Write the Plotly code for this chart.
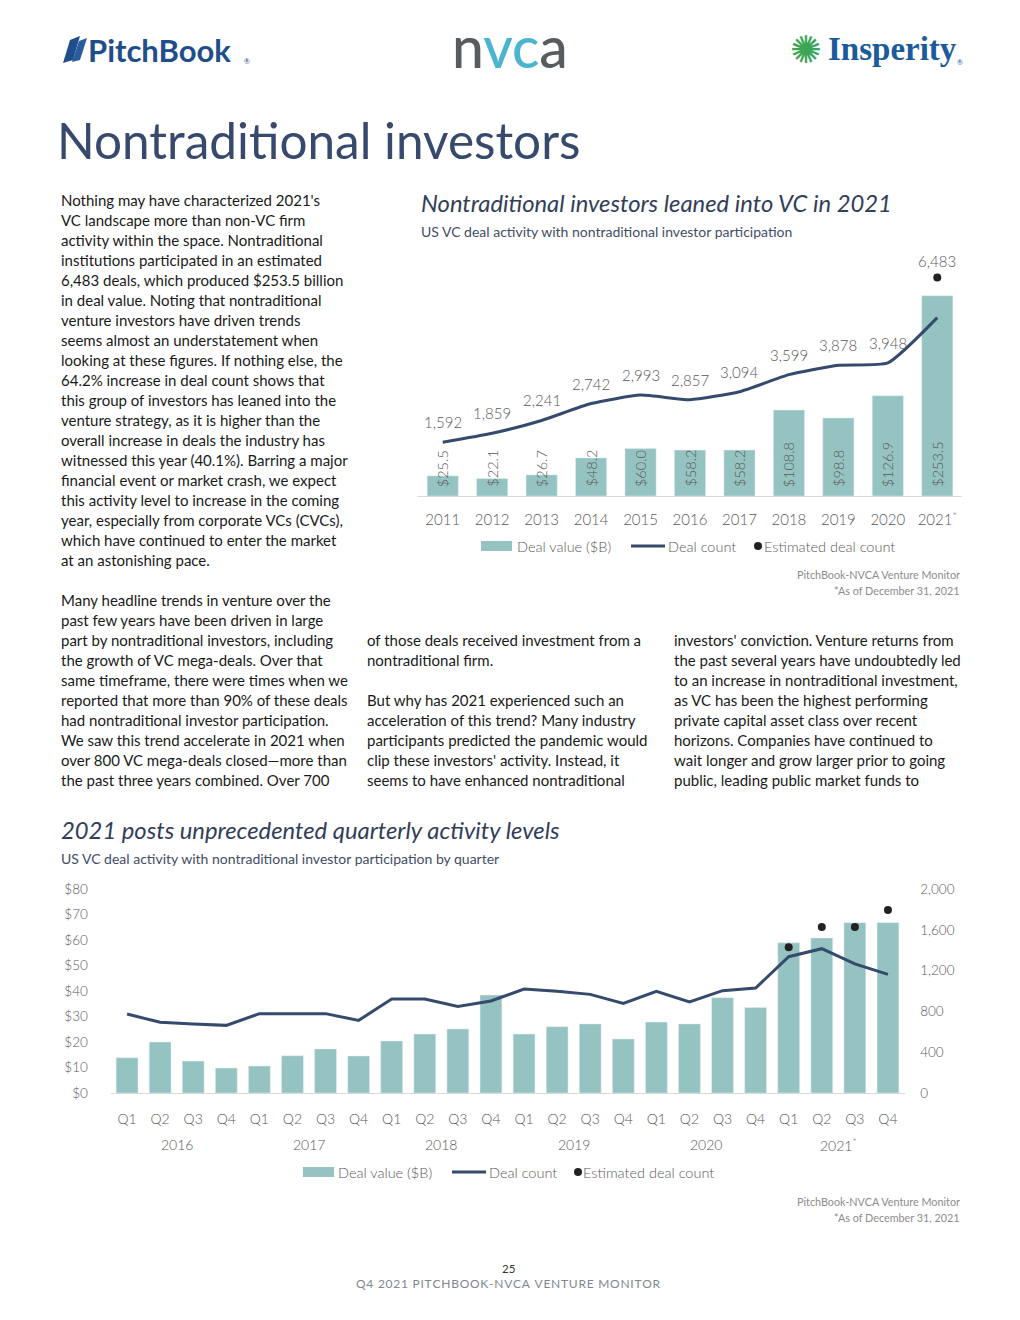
import plotly.graph_objects as go

# page geometry: figure sits 8px inside the page; plotting area maps to page rows 16..1304
OFF = 8
W, H = 1020 - 2 * OFF, 1320 - 2 * OFF
TOP, HP = 16, 1288
def px(x):
    return (x - OFF) / W
def py(y):
    return 1 - (y - TOP) / HP

# ---------------- DATA ----------------
years = ["2011", "2012", "2013", "2014", "2015", "2016", "2017", "2018", "2019", "2020", "2021*"]
year_ticktext = ["2011", "2012", "2013", "2014", "2015", "2016", "2017", "2018", "2019", "2020", "2021<sup>*</sup>"]
annual_value = [25.5, 22.1, 26.7, 48.2, 60.0, 58.2, 58.2, 108.8, 98.8, 126.9, 253.5]
annual_count = [1592, 1859, 2241, 2742, 2993, 2857, 3094, 3599, 3878, 3948, 5290]
annual_count_labels = ["1,592", "1,859", "2,241", "2,742", "2,993", "2,857", "3,094", "3,599", "3,878", "3,948", ""]
annual_est_year = ["2021*"]
annual_est_count = [6483]

quarters = ["Q1", "Q2", "Q3", "Q4"] * 6
q_years = ["2016", "2017", "2018", "2019", "2020", "2021*"]
q_value = [13.8, 20.0, 12.5, 9.8, 10.6, 14.6, 17.3, 14.5,
           20.4, 23.1, 25.1, 38.4, 23.1, 26.0, 27.1, 21.2,
           27.8, 27.1, 37.4, 33.5, 58.9, 60.8, 66.8, 66.8]
q_count = [774, 693, 676, 663, 778, 778, 778, 712,
           921, 921, 849, 902, 1019, 997, 967, 879,
           997, 892, 1003, 1029, 1336, 1415, 1265, 1163]
q_est_index = [20, 21, 22, 23]
q_est_count = [1428, 1627, 1627, 1794]
value_ticks = list(range(0, 81, 10))
value_ticktext = [f"${v}" for v in value_ticks]
count_ticks = list(range(0, 2001, 400))

# ---------------- STYLE ----------------
TEAL = "#95c3c1"
NAVY = "#354a6c"
DOT = "#222222"
GRAY = "#595959"
FONT = "Lato"

fig = go.Figure()

# Top chart (x = category index)
yx = list(range(len(years)))
est_x = [years.index(y) for y in annual_est_year]
fig.add_trace(go.Bar(x=yx, y=annual_value, marker_color=TEAL, width=0.63,
                     xaxis="x", yaxis="y", showlegend=False, hoverinfo="skip"))
fig.add_trace(go.Scatter(x=yx, y=annual_count, mode="lines",
                         line=dict(color=NAVY, width=3, shape="spline", smoothing=0.5),
                         xaxis="x", yaxis="y2", showlegend=False, hoverinfo="skip"))
fig.add_trace(go.Scatter(x=est_x, y=annual_est_count, mode="markers",
                         marker=dict(color=DOT, size=8),
                         xaxis="x", yaxis="y2", showlegend=False, hoverinfo="skip"))

# Bottom chart
qx = list(range(len(q_value)))
fig.add_trace(go.Bar(x=qx, y=q_value, marker_color=TEAL, width=0.66,
                     xaxis="x3", yaxis="y3", showlegend=False, hoverinfo="skip"))
fig.add_trace(go.Scatter(x=qx, y=q_count, mode="lines",
                         line=dict(color=NAVY, width=3),
                         xaxis="x3", yaxis="y4", showlegend=False, hoverinfo="skip"))
fig.add_trace(go.Scatter(x=q_est_index, y=q_est_count, mode="markers",
                         marker=dict(color=DOT, size=8),
                         xaxis="x3", yaxis="y4", showlegend=False, hoverinfo="skip"))

tickfont_top = dict(family=FONT, size=15, color=GRAY, weight=300)
tickfont_bot = dict(family=FONT, size=14, color=GRAY, weight=300)

fig.update_layout(
    width=W, height=H, autosize=False,
    margin=dict(l=0, r=0, t=0, b=0),
    paper_bgcolor="white", plot_bgcolor="rgba(0,0,0,0)",
    font=dict(family=FONT),
    xaxis=dict(domain=[px(418), px(962)], anchor="y", range=[-0.5, len(years) - 0.5],
               tickvals=yx, ticktext=year_ticktext,
               showline=True, linecolor="#d9d9d9", linewidth=1,
               showgrid=False, zeroline=False,
               ticks="outside", ticklen=10, tickcolor="rgba(0,0,0,0)",
               tickfont=tickfont_top, fixedrange=True),
    yaxis=dict(domain=[py(496), py(260)], range=[0, 298.7], visible=False, fixedrange=True),
    yaxis2=dict(overlaying="y", range=[0, 7000], visible=False, fixedrange=True),
    xaxis3=dict(domain=[px(110.5), px(904.5)], anchor="y3", range=[-0.5, 23.5],
                tickvals=qx, ticktext=quarters,
                showline=True, linecolor="#d9d9d9", linewidth=1,
                showgrid=False, zeroline=False,
                ticks="outside", ticklen=13, tickcolor="rgba(0,0,0,0)",
                tickfont=tickfont_bot, fixedrange=True),
    yaxis3=dict(domain=[py(1093), py(889)], anchor="x3", range=[0, 80],
                tickvals=value_ticks, ticktext=value_ticktext,
                showgrid=False, zeroline=False, showline=False,
                ticks="outside", ticklen=19, tickcolor="rgba(0,0,0,0)",
                tickfont=dict(family=FONT, size=13.5, color=GRAY, weight=300), fixedrange=True),
    yaxis4=dict(overlaying="y3", anchor="x3", side="right", range=[0, 2000],
                tickvals=count_ticks, tickformat=",",
                showgrid=False, zeroline=False, showline=False,
                ticks="outside", ticklen=12, tickcolor="rgba(0,0,0,0)",
                tickfont=dict(family=FONT, size=13.5, color=GRAY, weight=300), fixedrange=True),
)

ann = []
shapes = []

def text(x, y, t, size=14, color="#1a1a1a", xanchor="left", weight=400, style="normal", family=FONT):
    ann.append(dict(x=px(x), y=py(y), xref="paper", yref="paper", text=t, showarrow=False,
                    xanchor=xanchor, yanchor="middle", borderpad=0,
                    font=dict(family=family, size=size, color=color, weight=weight, style=style)))

# Top chart labels: deal counts above line
for i, (c, lab) in enumerate(zip(annual_count, annual_count_labels)):
    if lab:
        ann.append(dict(x=i, y=c, xref="x", yref="y2", text=lab, showarrow=False,
                        yanchor="middle", yshift=20,
                        font=dict(family=FONT, size=15, color=GRAY, weight=300)))
for i, c in zip(est_x, annual_est_count):
    ann.append(dict(x=i, y=c, xref="x", yref="y2", text=f"{c:,}", showarrow=False,
                    yanchor="middle", yshift=16,
                    font=dict(family=FONT, size=15, color=GRAY, weight=300)))
# bar value labels
for i, v in enumerate(annual_value):
    ann.append(dict(x=i, y=0, xref="x", yref="y", text=f"${v:.1f}", showarrow=False,
                    textangle=-90, yanchor="bottom", xanchor="center", yshift=7,
                    font=dict(family=FONT, size=14.5, color=GRAY, weight=300)))

# Bottom chart year labels
for i, yl in enumerate(q_years):
    ann.append(dict(x=4 * i + 1.5, y=py(1144), xref="x3", yref="paper",
                    text=yl.replace("*", "<sup>*</sup>"), showarrow=False,
                    yanchor="middle", font=dict(family=FONT, size=14, color=GRAY, weight=300)))

# Page title
text(56, 140, "Nontraditional investors", size=49.5, color="#374a6d")

# Chart titles
text(420, 203, "Nontraditional investors leaned into VC in 2021", size=23.8, color="#323e58", style="italic")
text(420, 231, "US VC deal activity with nontraditional investor participation", size=14, color="#3f4d66")
text(60, 830, "2021 posts unprecedented quarterly activity levels", size=23.8, color="#323e58", style="italic")
text(60, 858, "US VC deal activity with nontraditional investor participation by quarter", size=14, color="#3f4d66")

# Legends (manual)
def legend(y, x_sw, x_t1, x_l0, x_l1, x_t2, x_dot, x_t3):
    shapes.append(dict(type="rect", xref="paper", yref="paper", x0=px(x_sw), x1=px(x_sw + 31),
                       y0=py(y + 5), y1=py(y - 5), fillcolor=TEAL, line=dict(width=0)))
    shapes.append(dict(type="line", xref="paper", yref="paper", x0=px(x_l0), x1=px(x_l1),
                       y0=py(y), y1=py(y), line=dict(color=NAVY, width=3)))
    shapes.append(dict(type="circle", xref="paper", yref="paper", x0=px(x_dot - 4), x1=px(x_dot + 4),
                       y0=py(y + 4), y1=py(y - 4), fillcolor=DOT, line=dict(width=0)))
    text(x_t1, y, "Deal value ($B)", size=14.5, color=GRAY, weight=300)
    text(x_t2, y, "Deal count", size=14.5, color=GRAY, weight=300)
    text(x_t3, y, "Estimated deal count", size=14.5, color=GRAY, weight=300)

legend(546, 481, 516, 631, 665, 667, 758, 763)
legend(1172, 303, 337, 452, 486, 488, 578, 582)

# Sources
for yy1, yy2 in [(575, 590), (1201, 1217)]:
    text(961, yy1, "PitchBook-NVCA Venture Monitor", size=10.8, color="#8c8c8c", xanchor="right")
    text(961, yy2, "*As of December 31, 2021", size=10.8, color="#8c8c8c", xanchor="right")

# Footer
text(508, 1268, "25", size=11.5, color="#333333", xanchor="center")
footer = "Q4 2021 PITCHBOOK-NVCA VENTURE MONITOR"
text(508, 1283, "\u200a".join(footer), size=12, color="#7f8790", xanchor="center")

# Body text
left_col = [
    "Nothing may have characterized 2021's",
    "VC landscape more than non-VC firm",
    "activity within the space. Nontraditional",
    "institutions participated in an estimated",
    "6,483 deals, which produced $253.5 billion",
    "in deal value. Noting that nontraditional",
    "venture investors have driven trends",
    "seems almost an understatement when",
    "looking at these figures. If nothing else, the",
    "64.2% increase in deal count shows that",
    "this group of investors has leaned into the",
    "venture strategy, as it is higher than the",
    "overall increase in deals the industry has",
    "witnessed this year (40.1%). Barring a major",
    "financial event or market crash, we expect",
    "this activity level to increase in the coming",
    "year, especially from corporate VCs (CVCs),",
    "which have continued to enter the market",
    "at an astonishing pace.",
    "",
    "Many headline trends in venture over the",
    "past few years have been driven in large",
    "part by nontraditional investors, including",
    "the growth of VC mega-deals. Over that",
    "same timeframe, there were times when we",
    "reported that more than 90% of these deals",
    "had nontraditional investor participation.",
    "We saw this trend accelerate in 2021 when",
    "over 800 VC mega-deals closed\u2014more than",
    "the past three years combined. Over 700",
]
mid_col = [
    "of those deals received investment from a",
    "nontraditional firm.",
    "",
    "But why has 2021 experienced such an",
    "acceleration of this trend? Many industry",
    "participants predicted the pandemic would",
    "clip these investors' activity. Instead, it",
    "seems to have enhanced nontraditional",
]
right_col = [
    "investors' conviction. Venture returns from",
    "the past several years have undoubtedly led",
    "to an increase in nontraditional investment,",
    "as VC has been the highest performing",
    "private capital asset class over recent",
    "horizons. Companies have continued to",
    "wait longer and grow larger prior to going",
    "public, leading public market funds to",
]
BODY = 15
for i, line in enumerate(left_col):
    if line:
        text(60, 200 + 20 * i, line, size=BODY)
for i, line in enumerate(mid_col):
    if line:
        text(366, 640 + 20 * i, line, size=BODY)
for i, line in enumerate(right_col):
    if line:
        text(673, 640 + 20 * i, line, size=BODY)

# Logos (approximate, as text + simple shapes)
def path(points):
    return "M " + " L ".join(f"{px(a)},{py(b)}" for a, b in points) + " Z"
shapes.append(dict(type="path", xref="paper", yref="paper",
                   path=path([(63, 63), (70, 40), (80, 36), (73, 60)]),
                   fillcolor="#1f4e8a", line=dict(width=0)))
shapes.append(dict(type="path", xref="paper", yref="paper",
                   path=path([(72, 62), (79, 41), (87, 38), (80, 60)]),
                   fillcolor="#2a5d9c", line=dict(width=0)))
text(87, 50, "PitchBook", size=31, color="#1f4e8a", weight=700)
text(243, 61, "®", size=7, color="#1f4e8a")
ann.append(dict(x=px(510), y=py(46), xref="paper", yref="paper", showarrow=False,
                xanchor="center", yanchor="middle",
                text='<span style="color:#575c60">n</span><span style="color:#4bb5cf">vc</span><span style="color:#575c60">a</span>',
                font=dict(family=FONT, size=57, weight=500)))
text(806, 50, "\u273a", size=38, color="#3ba655", xanchor="center", family="DejaVu Sans")
text(827, 49, "Insperity", size=33, color="#1b5a9c", weight=700, family="Liberation Serif")
text(956, 62, "®", size=7, color="#1b5a9c")

fig.update_layout(annotations=ann, shapes=shapes)
fig.write_html("out.html")
